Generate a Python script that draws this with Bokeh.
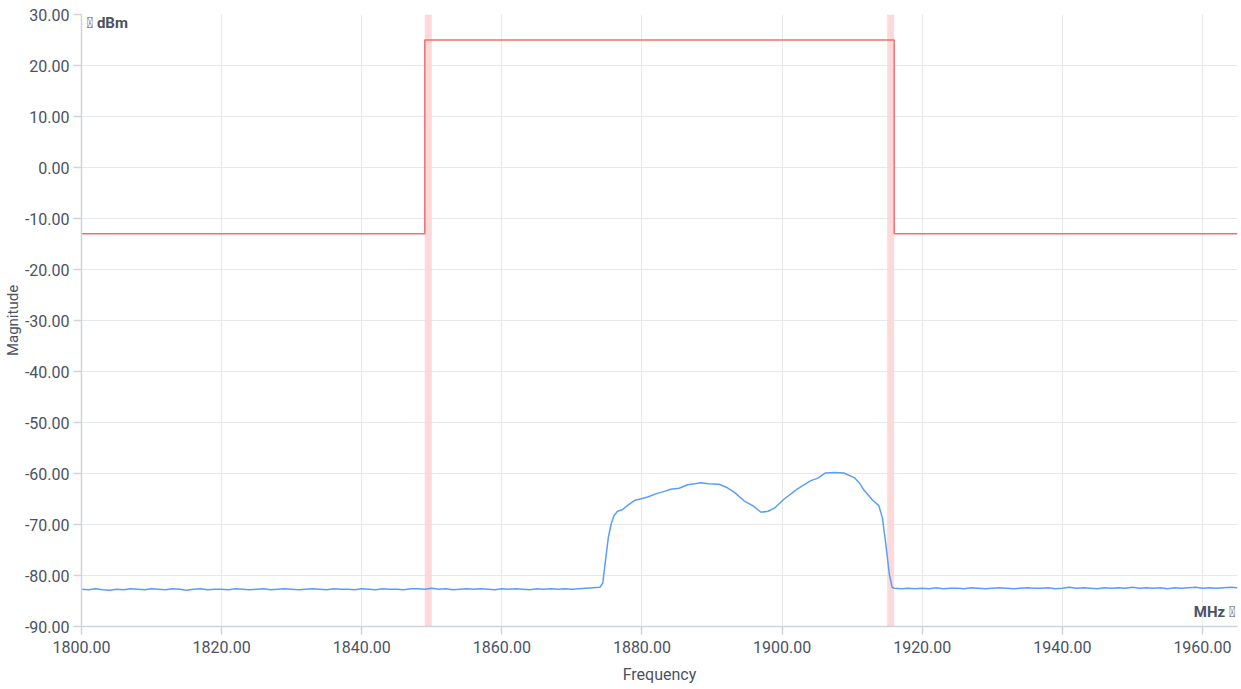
from bokeh.plotting import figure
from bokeh.models import FixedTicker, NumeralTickFormatter, Label, Range1d
from bokeh.embed import file_html
from bokeh.resources import INLINE

# ---------------- data ----------------
x_ticks = [1800, 1820, 1840, 1860, 1880, 1900, 1920, 1940, 1960]
y_ticks = [-90, -80, -70, -60, -50, -40, -30, -20, -10, 0, 10, 20, 30]

mask_freq = [1800, 1849, 1849, 1916, 1916, 1965]
mask_level = [-13, -13, 25, 25, -13, -13]

band_left = [1849.0, 1915.0]
band_right = [1850.0, 1916.0]

floor_left_freq = list(range(1800, 1874))
floor_left_mag = [
    -82.7, -82.8, -82.6, -82.8, -82.9, -82.7, -82.8, -82.6, -82.7, -82.8,
    -82.6, -82.7, -82.8, -82.6, -82.7, -82.9, -82.7, -82.6, -82.8, -82.7,
    -82.7, -82.8, -82.6, -82.7, -82.8, -82.7, -82.6, -82.8, -82.7, -82.6,
    -82.7, -82.8, -82.7, -82.6, -82.7, -82.8, -82.6, -82.7, -82.7, -82.8,
    -82.6, -82.7, -82.8, -82.6, -82.7, -82.7, -82.8, -82.6, -82.6, -82.7,
    -82.5, -82.7, -82.6, -82.8, -82.7, -82.6, -82.7, -82.6, -82.7, -82.8,
    -82.6, -82.7, -82.6, -82.7, -82.8, -82.6, -82.7, -82.6, -82.7, -82.6,
    -82.7, -82.6, -82.5, -82.4,
]

signal_freq = [
    1874.0, 1874.4, 1874.8, 1875.2, 1875.6, 1876.0, 1876.5, 1877.2, 1878.0, 1878.9,
    1880.0, 1880.8, 1882.2, 1883.2, 1884.1, 1885.3, 1886.5, 1887.5, 1888.4, 1889.5,
    1891.0, 1892.2, 1893.2, 1894.6, 1895.8, 1897.0, 1898.0, 1898.9, 1900.3, 1902.2,
    1904.1, 1905.1, 1906.2, 1907.5, 1908.8, 1910.3, 1911.0, 1911.7, 1912.9, 1913.8,
    1914.3, 1914.8, 1915.3, 1915.7, 1916.0,
]
signal_mag = [
    -82.3, -81.5, -77.0, -72.5, -69.9, -68.3, -67.4, -67.1, -66.2, -65.3,
    -64.9, -64.6, -63.9, -63.5, -63.1, -62.9, -62.2, -62.0, -61.8, -62.0,
    -62.1, -62.8, -63.7, -65.4, -66.3, -67.6, -67.4, -66.8, -65.0, -63.0,
    -61.4, -60.9, -59.9, -59.8, -59.9, -60.8, -61.8, -63.3, -65.2, -66.3,
    -68.6, -73.8, -79.7, -82.3, -82.5,
]

floor_right_freq = list(range(1917, 1966))
floor_right_mag = [
    -82.6, -82.5, -82.6, -82.5, -82.6, -82.4, -82.6, -82.5, -82.5, -82.6,
    -82.4, -82.5, -82.6, -82.5, -82.4, -82.5, -82.6, -82.5, -82.4, -82.5,
    -82.5, -82.4, -82.6, -82.5, -82.3, -82.5, -82.4, -82.5, -82.6, -82.4,
    -82.5, -82.4, -82.5, -82.3, -82.5, -82.4, -82.5, -82.4, -82.6, -82.4,
    -82.5, -82.4, -82.3, -82.5, -82.4, -82.5, -82.4, -82.3, -82.4,
]

trace_freq = floor_left_freq + signal_freq + floor_right_freq
trace_mag = floor_left_mag + signal_mag + floor_right_mag

# ---------------- figure ----------------
TEXT = "#4b5262"
AXIS = "#cfd3da"
FONT = "Roboto"

p = figure(width=1241, height=689, output_backend="svg", toolbar_location=None,
           x_range=Range1d(1800, 1965), y_range=Range1d(-90, 30),
           x_axis_label="Frequency", y_axis_label="Magnitude",
           min_border_left=80, min_border_right=4, min_border_top=14, min_border_bottom=63)
p.outline_line_color = None
p.background_fill_color = "white"
p.border_fill_color = "white"

p.quad(left=band_left, right=band_right, bottom=-90, top=30,
       fill_color="#fdd5d5", fill_alpha=0.9, line_color=None)

p.line(mask_freq, mask_level, line_color="#f07070", line_width=1.5)
p.line(trace_freq, trace_mag, line_color="#5b9ef7", line_width=1.5)

for ax in (p.xaxis[0], p.yaxis[0]):
    ax.axis_line_color = AXIS
    ax.axis_line_width = 1.5
    ax.major_tick_line_color = AXIS
    ax.major_tick_line_width = 1.5
    ax.major_tick_out = 8
    ax.major_tick_in = 0
    ax.minor_tick_line_color = None
    ax.major_label_text_font = FONT
    ax.major_label_text_font_size = "16px"
    ax.major_label_text_color = TEXT
    ax.axis_label_text_font = FONT
    ax.axis_label_text_font_style = "normal"
    ax.axis_label_text_color = TEXT
    ax.formatter = NumeralTickFormatter(format="0.00")

p.xaxis[0].axis_label_text_font_size = "16px"
p.yaxis[0].axis_label_text_font_size = "15px"
p.xaxis[0].ticker = FixedTicker(ticks=x_ticks)
p.yaxis[0].ticker = FixedTicker(ticks=y_ticks)
p.xaxis[0].major_label_standoff = 6
p.yaxis[0].major_label_standoff = 4
p.xaxis[0].axis_label_standoff = 9
p.yaxis[0].axis_label_standoff = 0

p.xgrid.grid_line_color = "#e7e8eb"
p.ygrid.grid_line_color = "#e7e8eb"
p.xgrid.ticker = FixedTicker(ticks=x_ticks)
p.ygrid.ticker = FixedTicker(ticks=y_ticks)

p.add_layout(Label(x=1800, y=30, x_offset=5, y_offset=1, text="\ue900 dBm",
                   text_baseline="top", text_align="left", text_font=FONT,
                   text_font_size="15px", text_font_style="bold", text_color=TEXT))
p.add_layout(Label(x=1965, y=-90, x_offset=-2, y_offset=6, text="MHz \ue900",
                   text_baseline="bottom", text_align="right", text_font=FONT,
                   text_font_size="15px", text_font_style="bold", text_color=TEXT))

open("out.html", "w").write(file_html(p, INLINE))
